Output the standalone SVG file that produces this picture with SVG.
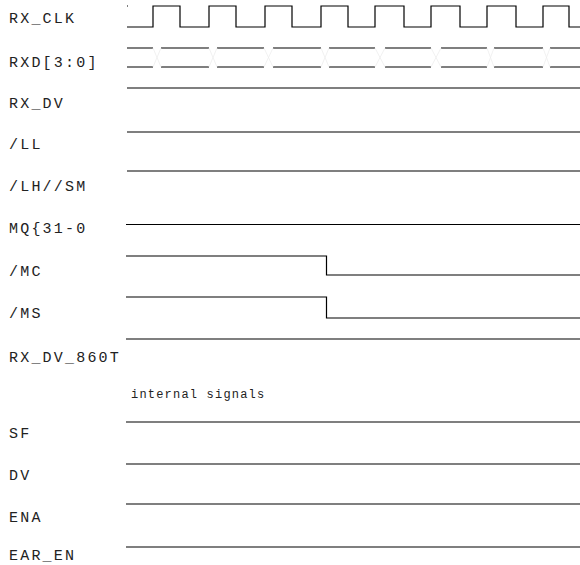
<svg xmlns="http://www.w3.org/2000/svg" width="580" height="565" viewBox="0 0 580 565">
<style>
.lbl{font-family:"Liberation Mono","DejaVu Sans Mono",monospace;font-size:15px;letter-spacing:2.2px;fill:#222}
.sub{font-family:"Liberation Mono","DejaVu Sans Mono",monospace;font-size:12px;letter-spacing:1.2px;fill:#222}
.w{fill:none;stroke:#000;stroke-width:1.2}
.x{fill:none;stroke:#eeeeee;stroke-width:0.8}
</style>
<rect width="580" height="565" fill="#fff"/>
<g id="RX_CLK">
<text class="lbl" x="9" y="23">RX_CLK</text>
<path class="w" d="M127,6 H128"/>
<path class="w" d="M127,27 H153 V6 H180 V27 H209 V6 H236 V27 H265 V6 H292 V27 H321 V6 H348 V27 H375 V6 H404 V27 H431 V6 H460 V27 H487 V6 H516 V27 H543 V6 H569 V27 H580"/>
</g>
<g id="RXD">
<text class="lbl" x="9" y="66.5">RXD[3:0]</text>
<path class="w" d="M127,48H153M161,48H209M217,48H264M273,48H321M329,48H375M385,48H431M441,48H487M494,48H543M550,48H580"/>
<path class="w" d="M127,67H153M161,67H209M217,67H264M273,67H321M329,67H375M385,67H431M441,67H487M494,67H543M550,67H580"/>
<path class="x" d="M153,48L161,67M153,67L161,48M209,48L217,67M209,67L217,48M264,48L273,67M264,67L273,48M321,48L329,67M321,67L329,48M375,48L385,67M375,67L385,48M431,48L441,67M431,67L441,48M487,48L494,67M487,67L494,48M543,48L550,67M543,67L550,48"/>
</g>
<g id="RX_DV">
<text class="lbl" x="9" y="108">RX_DV</text>
<path class="w" d="M127,88H580"/>
</g>
<g id="LL">
<text class="lbl" x="9" y="149">/LL</text>
<path class="w" d="M127,132H580"/>
</g>
<g id="LH_SM">
<text class="lbl" x="9" y="191">/LH//SM</text>
<path class="w" d="M127,171H580"/>
</g>
<g id="MQ">
<text class="lbl" x="9" y="233">MQ{31-0</text>
<path class="w" d="M126,224.5H580"/>
</g>
<g id="MC">
<text class="lbl" x="9" y="276">/MC</text>
<path class="w" d="M126,256H326.5V275H580"/>
</g>
<g id="MS">
<text class="lbl" x="9" y="318">/MS</text>
<path class="w" d="M126,297H326.5V318H580"/>
</g>
<g id="RX_DV_860T">
<text class="lbl" x="9" y="361.5">RX_DV_860T</text>
<path class="w" d="M126,339H580"/>
</g>
<text class="sub" x="131" y="398">internal signals</text>
<g id="SF">
<text class="lbl" x="9" y="438">SF</text>
<path class="w" d="M126,422H580"/>
</g>
<g id="DV">
<text class="lbl" x="9" y="480">DV</text>
<path class="w" d="M126,464H580"/>
</g>
<g id="ENA">
<text class="lbl" x="9" y="522">ENA</text>
<path class="w" d="M126,504H580"/>
</g>
<g id="EAR_EN">
<text class="lbl" x="9" y="560">EAR_EN</text>
<path class="w" d="M126,547H580"/>
</g>
</svg>
